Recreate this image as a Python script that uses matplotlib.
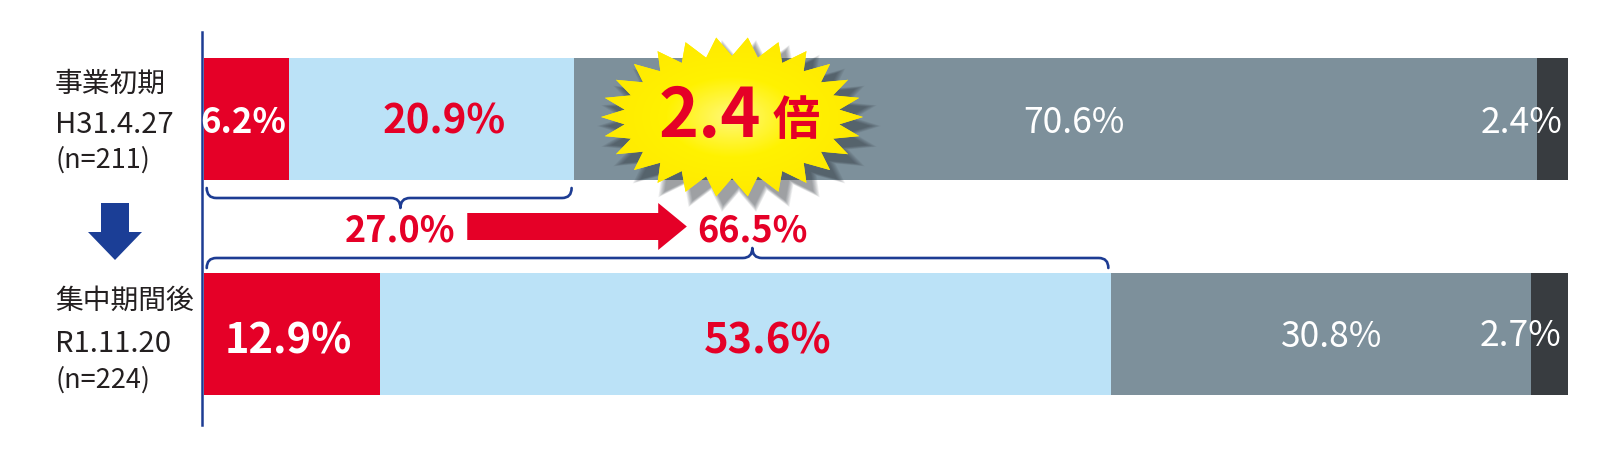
import numpy as np
import matplotlib
matplotlib.use("Agg")
import matplotlib.pyplot as plt
from matplotlib.patches import Polygon, FancyArrow, PathPatch
from matplotlib.path import Path
from matplotlib.colors import LinearSegmentedColormap

plt.rcParams['font.family'] = ['Noto Sans CJK JP', 'DejaVu Sans']

# data
periods = ['事業初期', '集中期間後']
dates = ['H31.4.27', 'R1.11.20']
sample_n = [211, 224]
seg_red = [6.2, 12.9]
seg_blue = [20.9, 53.6]
seg_grey = [70.6, 30.8]
seg_dark = [2.4, 2.7]
combined = [27.0, 66.5]
ratio = 2.4

RED = '#E50027'
LBLUE = '#BBE2F7'
GREY = '#7D909B'
DARK = '#383C40'
NAVY = '#1D3C93'
TXT = '#231F20'

W, H = 1622, 458
fig = plt.figure(figsize=(W / 100, H / 100), dpi=100)

# main bar axes: x in percent, y in pixel rows
ax = fig.add_axes([204 / W, 1 - 425 / H, 1364 / W, (425 - 32) / H])
ax.set_xlim(0, 100)
ax.set_ylim(425, 32)
ypos = [119, 334]
bar_h = 122

segments = [seg_red, seg_blue, seg_grey, seg_dark]
colors = [RED, LBLUE, GREY, DARK]
left = np.zeros(2)
for vals, c in zip(segments, colors):
    ax.barh(ypos, vals, left=left, height=bar_h, color=c, linewidth=0)
    left += np.array(vals)

for s in ['top', 'right', 'bottom']:
    ax.spines[s].set_visible(False)
ax.spines['left'].set_color(NAVY)
ax.spines['left'].set_linewidth(1.8)
ax.spines['left'].set_position(('outward', 1.5))
ax.set_xticks([])
ax.set_yticks([])
ax.patch.set_visible(False)

# bar value labels (x in percent, y = baseline row)
lab_x = [[2.9, 17.6, 63.8, 99.6], [6.2, 41.3, 82.7, 99.5]]
lab_y = [[133, 133, 133, 133], [353, 354, 347, 346]]
lab_size = [[25, 29, 25.5, 25.5], [30, 30, 25.5, 25.5]]
lab_col = ['white', RED, 'white', 'white']
lab_wt = ['bold', 'bold', 'normal', 'normal']
for i in range(2):
    for j, vals in enumerate(segments):
        ha = 'right' if j == 3 else 'center'
        ax.text(lab_x[i][j], lab_y[i][j], f"{vals[i]:.1f}%", ha=ha, va='baseline',
                color=lab_col[j], fontsize=lab_size[i][j], fontweight=lab_wt[j])


def brace(x0, x1, xm, y_line, d, r):
    # d > 0 : tip points down (larger pixel row), ends curl up
    verts = [(x0, y_line - d), (x0, y_line), (x0 + r, y_line),
             (xm - r, y_line), (xm, y_line), (xm, y_line + d),
             (xm, y_line), (xm + r, y_line),
             (x1 - r, y_line), (x1, y_line), (x1, y_line - d)]
    codes = [Path.MOVETO, Path.CURVE3, Path.CURVE3,
             Path.LINETO, Path.CURVE3, Path.CURVE3,
             Path.CURVE3, Path.CURVE3,
             Path.LINETO, Path.CURVE3, Path.CURVE3]
    return PathPatch(Path(verts, codes), fill=False, edgecolor=NAVY, lw=1.9,
                     capstyle='round', joinstyle='round', clip_on=False)


# combined share labels + braces
comb_x = [14.4, 40.2]
for cx, v in zip(comb_x, combined):
    ax.text(cx, 242, f"{v:.1f}%", ha='center', va='baseline', color=RED,
            fontsize=26, fontweight='bold')
top_end = seg_red[0] + seg_blue[0]
bot_end = seg_red[1] + seg_blue[1]
ax.add_patch(brace(0.2, top_end - 0.15, comb_x[0], 198, 10, 0.7))
ax.add_patch(brace(0.2, bot_end - 0.2, comb_x[1], 258, -10, 0.7))

# red arrow between the two totals
ax.add_patch(FancyArrow(19.3, 226.5, 35.4 - 19.3, 0, width=27, head_width=47,
                        head_length=2.1, length_includes_head=True,
                        color=RED, linewidth=0, clip_on=False))

# overlay axes in figure pixels
ov = fig.add_axes([0, 0, 1, 1])
ov.set_xlim(0, W)
ov.set_ylim(H, 0)
ov.axis('off')
ov.patch.set_visible(False)

# row labels
label_rows = [(92, 133, 168), (309, 352, 388)]
for k in range(2):
    r1, r2, r3 = label_rows[k]
    ov.text(55, r1, periods[k], ha='left', va='baseline', fontsize=20, color=TXT)
    ov.text(55, r2, dates[k], ha='left', va='baseline', fontsize=21, color=TXT)
    ov.text(55, r3, f"(n={sample_n[k]})", ha='left', va='baseline', fontsize=19.5, color=TXT)

# navy down arrow
ov.add_patch(FancyArrow(115, 203, 0, 57, width=28, head_width=54, head_length=28,
                        length_includes_head=True, color='#1B3E96', linewidth=0))

# starburst
cx, cy = 732, 117
n_pts = 26
ang = np.pi / 2 + np.arange(2 * n_pts) * np.pi / n_pts
rx = np.where(np.arange(2 * n_pts) % 2 == 0, 108, 131)
ry = np.where(np.arange(2 * n_pts) % 2 == 0, 61, 80)
star_xy = np.column_stack([cx + rx * np.cos(ang), cy - ry * np.sin(ang)])

for i in range(8):
    sc = 1.0 + 0.012 * i
    sh = np.column_stack([cx + 7 + (star_xy[:, 0] - cx) * sc,
                          cy + 9 + (star_xy[:, 1] - cy) * sc])
    ov.add_patch(Polygon(sh, closed=True, facecolor='#2A3038', alpha=0.07,
                         linewidth=0, zorder=2))

star = Polygon(star_xy, closed=True, facecolor='#FFEE00', edgecolor='none', zorder=3)
ov.add_patch(star)
gx, gy = np.meshgrid(np.linspace(-1, 1, 200), np.linspace(-1, 1, 200))
rad = np.clip(np.sqrt(gx ** 2 + gy ** 2), 0, 1)
cmap = LinearSegmentedColormap.from_list('yel', ['#FFF878', '#FFF200', '#FFEA00'])
im = ov.imshow(rad, cmap=cmap, extent=(cx - 131, cx + 131, cy + 80, cy - 80),
               aspect='auto', zorder=4, interpolation='bilinear')
im.set_clip_path(star)
ov.set_xlim(0, W)
ov.set_ylim(H, 0)

ov.text(710, 137, f"{ratio:.1f}", ha='center', va='baseline', color=RED,
        fontsize=49, fontweight='bold', zorder=5)
ov.text(796, 135, '倍', ha='center', va='baseline', color=RED,
        fontsize=34, fontweight='bold', zorder=5)

fig.savefig('out.png', dpi=100, facecolor='white')
